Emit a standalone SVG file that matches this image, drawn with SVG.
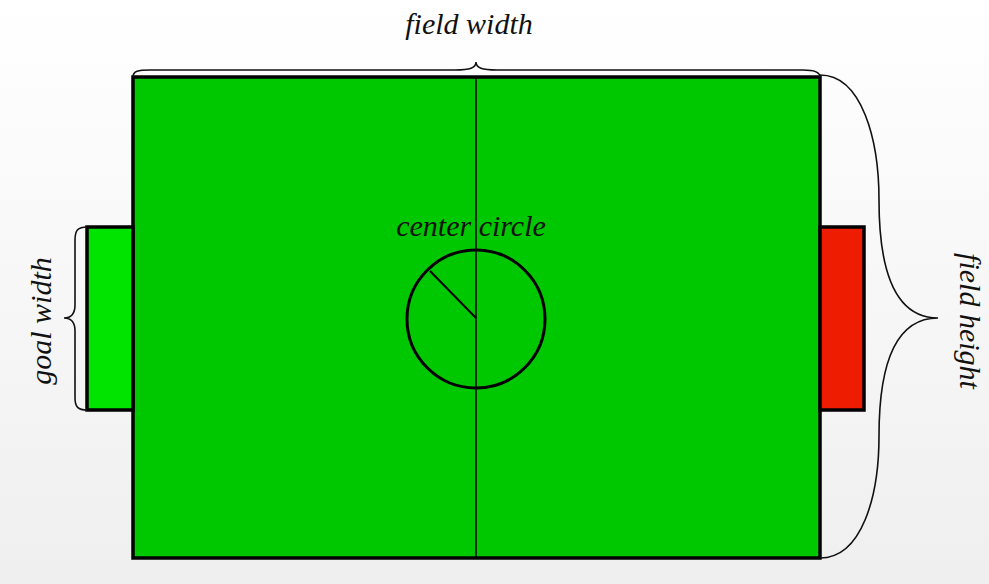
<svg xmlns="http://www.w3.org/2000/svg" width="989" height="584" viewBox="0 0 989 584">
<defs>
<linearGradient id="bg" x1="0" y1="0" x2="0" y2="1">
<stop offset="0" stop-color="#ffffff"/>
<stop offset="1" stop-color="#efefef"/>
</linearGradient>
</defs>
<style>
.lbl{font-family:"Liberation Serif","Times New Roman",serif;font-style:italic;font-size:30px;fill:#111;}
.brace{fill:none;stroke:#111;stroke-width:1.6;}
.thick{stroke:#000;stroke-width:3.5;}
</style>
<rect x="0" y="0" width="989" height="584" fill="url(#bg)"/>
<g id="field">
<rect x="133" y="77" width="687" height="481" fill="#00c800" class="thick"/>
</g>
<g id="goal-left">
<rect x="87" y="227" width="46" height="183" fill="#00e400" class="thick"/>
</g>
<g id="goal-right">
<rect x="820" y="227" width="44" height="183" fill="#ee1c00" class="thick"/>
</g>
<g id="center-circle">
<circle cx="476" cy="319" r="69" fill="none" stroke="#000" stroke-width="3"/>
<line x1="476" y1="318" x2="430" y2="271" stroke="#000" stroke-width="2"/>
</g>
<g id="connectors">
<line x1="476" y1="77" x2="476" y2="559" stroke="#000" stroke-width="1.5"/>
<path class="brace" d="M133,77 C133,71 138,70 150,70 L455,70 C470,70 476,68 476,62 C476,68 482,70 497,70 L803,70 C815,70 820,72 820,77"/>
<path class="brace" d="M87,227 C78,227 75,230 75,240 L75,305 C75,314 71,318 64,318 C71,318 75,322 75,331 L75,398 C75,407 78,410 87,410"/>
<path class="brace" d="M820,75 C862,75 879,140 879,200 C879,270 895,318 938,318 C895,318 879,366 879,436 C879,496 862,558 820,558"/>
</g>
<g id="labels">
<text class="lbl" x="469" y="34" text-anchor="middle">field width</text>
<text class="lbl" x="471" y="236" text-anchor="middle">center circle</text>
<text class="lbl" text-anchor="middle" transform="translate(51,321) rotate(-90)">goal width</text>
<text class="lbl" text-anchor="middle" transform="translate(960,321) rotate(90)">field height</text>
</g>
</svg>
